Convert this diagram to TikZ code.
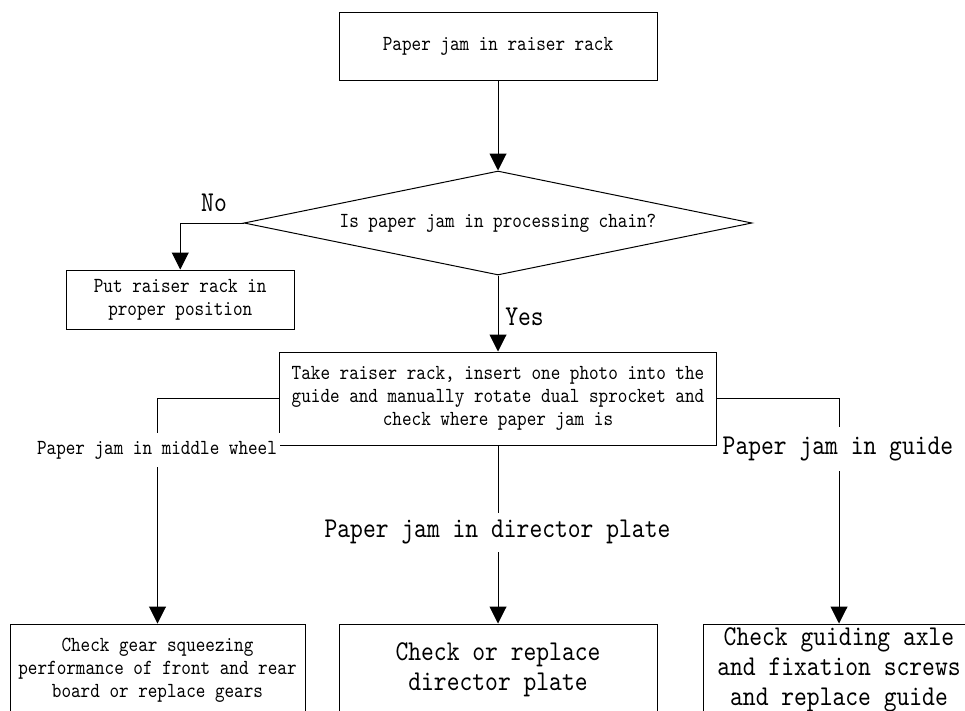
\documentclass[tikz,border=0pt]{standalone}
\usepackage{fontspec}
\usetikzlibrary{arrows.meta,shapes.geometric}
\newfontfamily\monocond[FakeStretch=0.85]{lmmono10-regular.otf}
\newcommand{\smalltxt}{\monocond\fontsize{21.5}{23}\selectfont}
\newcommand{\bigtxt}{\monocond\fontsize{28.7}{30}\selectfont}
\begin{document}
\begin{tikzpicture}[x=1pt,y=-1pt,
  boxnode/.style={draw, line width=1pt, inner sep=0pt, align=center, font=\smalltxt},
  arr/.style={line width=1pt, -{Triangle[width=17pt,length=17pt]}},
  lbl/.style={fill=white, inner sep=0pt, inner xsep=3pt, align=center}]
\clip (0,0) rectangle (965,710);
\fill[white] (0,0) rectangle (965,710);
% nodes
\node[boxnode, minimum width=318pt, minimum height=68pt] (top) at (498,46) {Paper jam in raiser rack};
\node[draw, line width=1pt, shape=diamond, aspect=4.885, minimum width=508pt, minimum height=104pt, inner sep=0pt, font=\smalltxt] (dia) at (498,223) {Is paper jam in processing chain?};
\node[boxnode, minimum width=227.5pt, minimum height=59pt] (nobox) at (180.25,299.5) {Put raiser rack in\\proper position};
\node[boxnode, minimum width=437pt, minimum height=93pt] (main) at (498,398.5) {Take raiser rack, insert one photo into the\\guide and manually rotate dual sprocket and\\check where paper jam is};
\node[boxnode, minimum width=295pt, minimum height=92pt] (b1) at (157.5,670) {Check gear squeezing\\performance of front and rear\\board or replace gears};
\node[boxnode, minimum width=318pt, minimum height=92pt, font=\bigtxt] (b2) at (498,670) {Check or replace\\director plate};
\node[boxnode, minimum width=272pt, minimum height=92pt, font=\bigtxt] (b3) at (839,670) {Check guiding axle\\and fixation screws\\and replace guide};
% connectors
\draw[arr] (top.south) -- (dia.north);
\draw[arr] (dia.west) -| (nobox.north);
\draw[arr] (dia.south) -- (main.north);
\draw[arr] (main.west) -| (b1.north);
\draw[arr] (main.south) -- (b2.north);
\draw[arr] (main.east) -| (b3.north);
% labels
\node[font=\bigtxt, inner sep=0pt] (nolbl) at (214,203) {No};
\node[font=\bigtxt, inner sep=0pt] (yeslbl) at (524.5,317) {Yes};
\node[lbl, font=\smalltxt, minimum height=34pt] (mwlbl) at (157,450) {Paper jam in middle wheel};
\node[lbl, font=\bigtxt, minimum height=39pt] (dplbl) at (497.5,532) {Paper jam in director plate};
\node[lbl, font=\bigtxt, minimum height=44pt] (gdlbl) at (838,449) {Paper jam in guide};
\end{tikzpicture}
\end{document}
